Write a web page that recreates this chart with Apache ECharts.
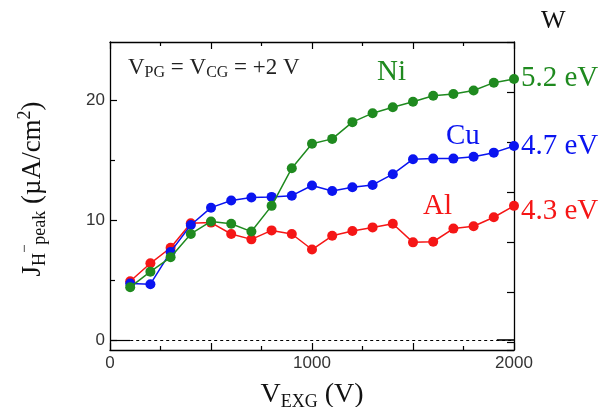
<!DOCTYPE html>
<html><head><meta charset="utf-8">
<script src="https://cdn.jsdelivr.net/npm/echarts@6/dist/echarts.min.js"></script>
<style>html,body{margin:0;padding:0;background:#fff}#c{width:611px;height:407px}</style>
</head><body><div id="c"></div>
<script>
const vexg = [100,200,300,400,500,600,700,800,900,1000,1100,1200,1300,1400,1500,1600,1700,1800,1900,2000];
const alValues = [4.9,6.4,7.7,9.75,9.8,8.85,8.4,9.15,8.85,7.55,8.7,9.1,9.4,9.7,8.15,8.2,9.3,9.5,10.25,11.2];
const cuValues = [4.7,4.65,7.35,9.6,11.05,11.65,11.9,11.95,12.05,12.9,12.45,12.75,12.95,13.85,15.1,15.15,15.15,15.3,15.65,16.2];
const niValues = [4.4,5.7,6.9,8.85,9.9,9.7,9.05,11.2,14.35,16.4,16.8,18.2,18.95,19.45,19.9,20.4,20.55,20.85,21.5,21.8];
const xTickLabels = [0,1000,2000];
const yTickLabels = [0,10,20];
const yMinorTicks = [5,15];
const seriesNames = ['Al','Cu','Ni'];
const workFunctions = ['4.3 eV','4.7 eV','5.2 eV'];

const RED='#f51616', BLUE='#0a14f0', GREEN='#1f8a1f';
const pairs = v => vexg.map((x,i)=>[x,v[i]]);
const serif = '"Liberation Serif","DejaVu Serif",serif';
const sans = '"Liberation Sans",Arial,sans-serif';

function mk(name, vals, color, z){
  return {name, type:'line', data:pairs(vals), xAxisIndex:0, yAxisIndex:0, z,
    symbol:'circle', symbolSize:10, showSymbol:true,
    lineStyle:{color, width:1.5}, itemStyle:{color}, animation:false};
}

const chart = echarts.init(document.getElementById('c'), null, {renderer:'canvas'});
const axisLine = {show:true, onZero:false, lineStyle:{color:'#000', width:1.3}};
const tickStyle = {color:'#000', width:1.2};
chart.setOption({
  animation:false,
  grid:{left:110, right:97, top:42, bottom:57, containLabel:false, outerBoundsMode:'none'},
  xAxis:[{
    type:'value', min:0, max:2000, interval:500, position:'bottom',
    axisLine, splitLine:{show:false},
    axisTick:{show:true, inside:true, length:7, lineStyle:tickStyle},
    minorTick:{show:true, splitNumber:2, length:4, lineStyle:tickStyle},
    axisLabel:{color:'#333', fontFamily:sans, fontSize:17, margin:5,
      formatter:v=> xTickLabels.includes(v)? String(v):''},
    name:'{m|V}{s|EXG}{m| (V)}', nameLocation:'middle', nameGap:29,
    nameTextStyle:{color:'#111', rich:{
      m:{fontFamily:serif, fontSize:28, color:'#111'},
      s:{fontFamily:serif, fontSize:18, color:'#111', padding:[14,0,0,0]}}}
  },{
    type:'value', min:0, max:2000, interval:500, position:'top',
    axisLine, splitLine:{show:false},
    axisTick:{show:true, inside:true, length:7, lineStyle:tickStyle},
    minorTick:{show:true, splitNumber:2, length:4, lineStyle:tickStyle},
    axisLabel:{show:false}
  }],
  yAxis:[{
    type:'value', min:-0.85, max:24.9, position:'left',
    axisLine, splitLine:{show:false},
    axisTick:{show:true, inside:true, length:7, lineStyle:tickStyle, customValues:yTickLabels},
    axisLabel:{color:'#333', fontFamily:sans, fontSize:17, margin:5, customValues:yTickLabels,
      formatter:v=> String(v)},
    name:'{m|J}{s|H}{p|−}{s|peak}{m| (µA/cm}{p2|2}{m|)}', nameLocation:'middle', nameGap:60, nameRotate:90,
    nameTextStyle:{padding:[0,0,0,14], rich:{
      m:{fontFamily:serif, fontSize:27, color:'#111'},
      s:{fontFamily:serif, fontSize:18, color:'#111', padding:[14,0,0,0]},
      p:{fontFamily:serif, fontSize:15, color:'#111', padding:[0,0,16,0]},
      p2:{fontFamily:serif, fontSize:18, color:'#111', padding:[0,0,16,0]}}}
  },{
    type:'value', min:0, max:6.16, interval:1, inverse:true, position:'right',
    axisLine, splitLine:{show:false},
    axisTick:{show:true, inside:true, length:7, lineStyle:tickStyle},
    axisLabel:{show:false}
  },{
    type:'value', min:-0.85, max:24.9, position:'left',
    axisLine:{show:false, onZero:false}, splitLine:{show:false},
    axisTick:{show:true, inside:true, length:5, lineStyle:tickStyle, customValues:yMinorTicks},
    axisLabel:{show:false}
  }],
  series:[
    mk(seriesNames[0], alValues, RED, 3),
    mk(seriesNames[1], cuValues, BLUE, 4),
    mk(seriesNames[2], niValues, GREEN, 5),
    {type:'line', data:[], xAxisIndex:0, yAxisIndex:0, silent:true, z:1,
      markLine:{symbol:'none', silent:true, label:{show:false},
        lineStyle:{color:'#000', type:[3,3], width:1},
        data:[
          [{coord:[100,0]},{coord:[2000,0]}],
          [{coord:[0,0], lineStyle:{type:'solid', width:1.2}},{coord:[100,0]}],
          [{coord:[1915,0], lineStyle:{type:'solid', width:1.6}},{coord:[2000,0]}]
        ]}}
  ],
  graphic:[
    {type:'text', left:128, top:56, style:{rich:{
      m:{fontFamily:serif, fontSize:23, fill:'#222'},
      s:{fontFamily:serif, fontSize:16, fill:'#222', padding:[11,0,0,0]}},
      text:'{m|V}{s|PG}{m| = V}{s|CG}{m| = +2 V}'}},
    {type:'text', left:377, top:58, style:{text:seriesNames[2], fontFamily:serif, fontSize:29, fill:GREEN}},
    {type:'text', left:446, top:122, style:{text:seriesNames[1], fontFamily:serif, fontSize:29, fill:BLUE}},
    {type:'text', left:423, top:192, style:{text:seriesNames[0], fontFamily:serif, fontSize:29, fill:RED}},
    {type:'text', left:541, top:8, style:{text:'W', fontFamily:serif, fontSize:26, fill:'#111'}},
    {type:'text', left:521, top:64, style:{text:workFunctions[2], fontFamily:serif, fontSize:29, fill:GREEN}},
    {type:'text', left:521, top:132, style:{text:workFunctions[1], fontFamily:serif, fontSize:29, fill:BLUE}},
    {type:'text', left:521, top:197, style:{text:workFunctions[0], fontFamily:serif, fontSize:29, fill:RED}}
  ]
});
</script></body></html>
